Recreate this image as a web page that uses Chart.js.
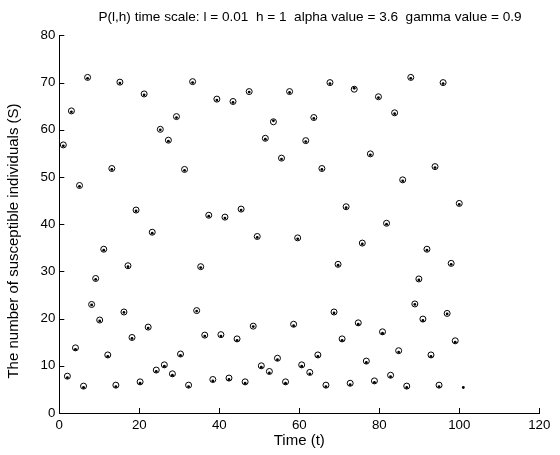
<!DOCTYPE html>
<html><head><meta charset="utf-8">
<script src="https://cdn.jsdelivr.net/npm/chart.js@4.4.0/dist/chart.umd.min.js"></script>
<style>html,body{margin:0;padding:0;background:#fff;}#wrap{width:560px;height:455px;position:relative;}</style>
</head><body><div id="wrap"><canvas id="c" width="560" height="455"></canvas></div>
<script>
// time points of the P(l,h) time scale, l = 0.01, h = 1
const timePoints = [1.01,2.02,3.03,4.04,5.05,6.06,7.07,8.08,9.09,10.1,11.11,12.12,13.13,14.14,15.15,16.16,17.17,18.18,19.19,20.2,21.21,22.22,23.23,24.24,25.25,26.26,27.27,28.28,29.29,30.3,31.31,32.32,33.33,34.34,35.35,36.36,37.37,38.38,39.39,40.4,41.41,42.42,43.43,44.44,45.45,46.46,47.47,48.48,49.49,50.5,51.51,52.52,53.53,54.54,55.55,56.56,57.57,58.58,59.59,60.6,61.61,62.62,63.63,64.64,65.65,66.66,67.67,68.68,69.69,70.7,71.71,72.72,73.73,74.74,75.75,76.76,77.77,78.78,79.79,80.8,81.81,82.82,83.83,84.84,85.85,86.86,87.87,88.88,89.89,90.9,91.91,92.92,93.93,94.94,95.95,96.96,97.97,98.98,99.99,101];

// susceptible individuals, circle markers
const susceptibleCircles = [
56.8,7.8,64.0,13.8,48.2,5.7,71.1,23.0,28.5,19.7,
34.7,12.3,51.8,5.9,70.1,21.4,31.2,16.0,43.0,6.6,
67.6,18.2,38.3,9.1,60.1,10.2,57.8,8.3,62.8,12.5,
51.6,5.9,70.2,21.7,31.0,16.5,41.9,7.1,66.5,16.6,
41.5,7.4,66.0,15.7,43.2,6.6,68.1,18.4,37.4,10.0,
58.2,8.8,61.7,11.6,54.0,6.6,68.1,18.8,37.1,10.2,
57.7,8.6,62.6,12.3,51.8,5.9,70.0,21.4,31.5,15.7,
43.7,6.3,68.6,19.1,36.0,11.0,54.9,6.8,67.0,17.2,
40.2,8.0,63.6,13.2,49.4,5.7,71.1,23.1,28.4,19.9,
34.7,12.3,52.2,5.9,70.0,21.1,31.7,15.3,44.4];

// susceptible individuals, dot markers
const susceptibleDots = [
56.6,7.5,63.8,13.5,48.0,5.4,70.9,22.9,28.3,19.5,
34.5,12.0,51.6,5.6,69.9,21.3,31.0,15.8,42.8,6.3,
67.4,18.0,38.1,8.8,60.0,9.9,57.6,8.0,62.6,12.2,
51.4,5.6,70.0,21.6,30.8,16.3,41.7,6.8,66.3,16.3,
41.3,7.1,65.8,15.4,43.0,6.3,68.0,18.3,37.2,9.7,
58.0,8.5,61.9,11.3,53.8,6.3,67.9,18.5,36.9,9.9,
57.5,8.3,62.4,12.0,51.6,5.6,69.8,21.2,31.3,15.4,
43.5,6.0,68.8,18.8,35.8,10.7,54.7,6.5,66.8,16.9,
40.0,7.7,63.4,12.9,49.2,5.4,70.9,23.0,28.2,19.6,
34.5,12.0,52.0,5.6,69.8,21.0,31.5,15.0,44.2,5.4];

const xTickMax = 120, xTickStep = 20;
const yTickMax = 80, yTickStep = 10;

const chartTitle = 'P(l,h) time scale: l = 0.01  h = 1  alpha value = 3.6  gamma value = 0.9';
const xLabel = 'Time (t)';
const yLabel = 'The number of susceptible individuals (S)';

const FONT = "'Liberation Sans', Arial, Helvetica, sans-serif";
const FS = 13.3;
const LABEL_FS = 15;
const TITLE_FS = 13.6;

const inwardTicks = {
  id: 'inwardTicks',
  afterDraw(chart) {
    const {ctx, chartArea: a, scales: {x, y}} = chart;
    ctx.save();
    ctx.strokeStyle = '#000';
    ctx.lineWidth = 1;
    ctx.beginPath();
    x.ticks.forEach(t => {
      const px = Math.round(x.getPixelForValue(t.value)) + 0.5;
      ctx.moveTo(px, a.bottom); ctx.lineTo(px, a.bottom - 5);
    });
    y.ticks.forEach(t => {
      const py = Math.round(y.getPixelForValue(t.value)) + 0.5;
      ctx.moveTo(a.left, py); ctx.lineTo(a.left + 5, py);
    });
    ctx.stroke();
    // title and y-axis label
    ctx.fillStyle = '#000';
    ctx.textAlign = 'center';
    ctx.textBaseline = 'middle';
    ctx.font = TITLE_FS + 'px ' + FONT;
    ctx.fillText(chartTitle, 310, 17);
    ctx.translate(14, 241);
    ctx.rotate(-Math.PI / 2);
    ctx.font = LABEL_FS + 'px ' + FONT;
    ctx.fillText(yLabel, 0, 0);
    ctx.restore();
  }
};

new Chart(document.getElementById('c'), {
  type: 'scatter',
  data: {
    datasets: [
      {
        label: 'S circles',
        data: susceptibleCircles.map((v, i) => ({x: timePoints[i], y: v})),
        pointStyle: 'circle', pointRadius: 3, pointBorderWidth: 1,
        borderColor: '#000', backgroundColor: 'rgba(255,255,255,0)',
        pointHoverRadius: 3, order: 2
      },
      {
        label: 'S dots',
        data: susceptibleDots.map((v, i) => ({x: timePoints[i], y: v})),
        pointStyle: 'circle', pointRadius: 1.4, pointBorderWidth: 0,
        borderColor: '#000', backgroundColor: '#000',
        pointHoverRadius: 1.4, order: 1
      }
    ]
  },
  options: {
    responsive: false,
    animation: false,
    devicePixelRatio: 1,
    layout: {padding: {left: 0, right: 20.7, top: 35.4, bottom: 0}},
    plugins: {
      legend: {display: false},
      tooltip: {enabled: false},
      title: {display: false}
    },
    scales: {
      x: {
        type: 'linear', min: 0, max: xTickMax,
        afterFit(s) { s.height = 42; },
        ticks: {stepSize: xTickStep, color: '#000', font: {family: FONT, size: FS}, padding: 4, maxRotation: 0},
        grid: {display: false, drawTicks: false},
        border: {display: true, color: '#000', width: 1},
        title: {display: true, text: xLabel, color: '#000', font: {family: FONT, size: LABEL_FS}, padding: {top: 0, bottom: 5}}
      },
      y: {
        type: 'linear', min: 0, max: yTickMax,
        afterFit(s) { s.width = 59.3; },
        ticks: {stepSize: yTickStep, color: '#000', font: {family: FONT, size: FS}, padding: 4},
        grid: {display: false, drawTicks: false},
        border: {display: true, color: '#000', width: 1},
        title: {display: false}
      }
    }
  },
  plugins: [inwardTicks]
});
</script></body></html>
